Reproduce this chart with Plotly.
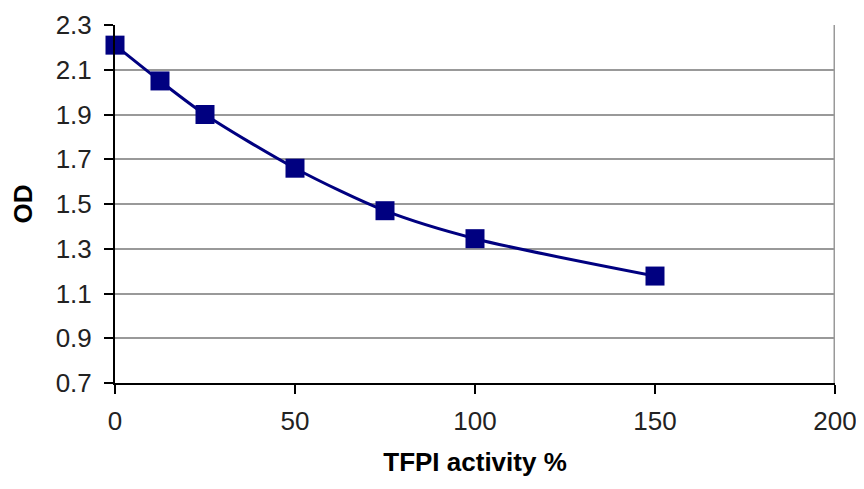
import plotly.graph_objects as go

tfpi_activity = [0, 12.5, 25, 50, 75, 100, 150]
od_values = [2.21, 2.05, 1.90, 1.66, 1.47, 1.345, 1.178]
x_ticks = [0, 50, 100, 150, 200]
y_ticks = [0.7, 0.9, 1.1, 1.3, 1.5, 1.7, 1.9, 2.1, 2.3]

fig = go.Figure()
fig.add_trace(go.Scatter(
    x=tfpi_activity, y=od_values, mode="lines+markers",
    line=dict(color="#000080", width=3, shape="spline", smoothing=0.8),
    marker=dict(symbol="square", size=19, color="#000080"),
    cliponaxis=False,
    showlegend=False,
))

font = dict(family="Arial, Liberation Sans, sans-serif", color="#000000")
fig.update_layout(
    width=864, height=489,
    margin=dict(l=107, r=37, t=17, b=114, autoexpand=False),
    paper_bgcolor="white", plot_bgcolor="white",
    font=font,
    xaxis=dict(
        range=[0, 200], tickvals=x_ticks, ticktext=[str(v) for v in x_ticks],
        showgrid=False, zeroline=False,
        showline=True, linecolor="black", linewidth=2,
        ticks="outside", ticklen=9, tickwidth=2, tickcolor="black",
        ticklabelstandoff=5,
        tickfont=dict(size=26, color="#222222"),
        title=dict(text="<b>TFPI activity %</b>", font=dict(size=26), standoff=18),
        automargin=False,
    ),
    yaxis=dict(
        range=[0.7, 2.3], tickvals=y_ticks, ticktext=[f"{v:.1f}" for v in y_ticks],
        showgrid=True, gridcolor="#999999", gridwidth=2, zeroline=False,
        showline=True, linecolor="black", linewidth=2,
        ticks="outside", ticklen=9, tickwidth=2, tickcolor="black",
        ticklabelstandoff=7,
        tickfont=dict(size=26, color="#222222"),
        title=dict(text="<b>OD</b>", font=dict(size=26), standoff=20),
        automargin=False,
    ),
)
# right border of the plot area
fig.add_shape(type="line", xref="x", yref="paper", x0=200, x1=200, y0=0, y1=1,
              line=dict(color="#999999", width=3))
fig.write_html("out.html")
